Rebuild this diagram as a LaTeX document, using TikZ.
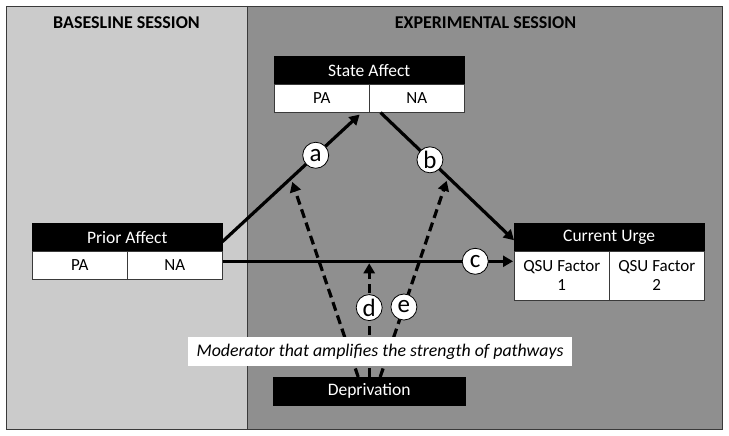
\documentclass[tikz,border=0pt]{standalone}
\usepackage{fontspec}
\setmainfont{Carlito}
\usetikzlibrary{arrows.meta,calc}
\definecolor{basegray}{HTML}{CBCBCB}
\definecolor{expgray}{HTML}{8F8F8F}
\definecolor{edgegray}{HTML}{3A3A3A}
\begin{document}
\begin{tikzpicture}[x=1pt,y=-1pt,
  hdr/.style={fill=black,text=white,draw=black,inner sep=0pt,anchor=north west,minimum height=28pt,font=\fontsize{17.5}{17.5}\selectfont},
  cellbox/.style={fill=white,draw=edgegray,line width=0.6pt,inner sep=0pt,anchor=north west,minimum width=95pt,font=\fontsize{17}{19}\selectfont,align=center},
  title/.style={font=\fontsize{18}{18}\selectfont\bfseries},
  lbl/.style={circle,fill=white,draw=black,line width=0.8pt,inner sep=0pt,minimum size=26pt,font=\fontsize{25}{25}\selectfont},
  solidarrow/.style={line width=3.2pt,-{Triangle[length=10pt,width=11pt]}},
  dasharrow/.style={line width=3.2pt,dash pattern=on 9pt off 5pt,-{Triangle[length=10pt,width=11pt]}},
]
\useasboundingbox (0,0) rectangle (729,436);
\fill[white] (0,0) rectangle (729,436);
\fill[basegray] (6,6) rectangle (247,429);
\fill[expgray] (247,6) rectangle (722,429);
\draw[edgegray,line width=0.8pt] (6,6) rectangle (722,429);
\draw[edgegray,line width=0.8pt] (247,6) -- (247,429);
\node[title] (tbase) at (126.5,22.5) {BASESLINE SESSION};
\node[title] (texp) at (485.5,22.5) {EXPERIMENTAL SESSION};

% boxes
\node[hdr,minimum width=190pt] (sah) at (274,56) {State Affect};
\node[cellbox,minimum height=28pt] (sapa) at (274,84) {PA};
\node[cellbox,minimum height=28pt] (sana) at (369,84) {NA};

\node[hdr,minimum width=190pt] (pah) at (32,223) {Prior Affect};
\node[cellbox,minimum height=28pt] (papa) at (32,251) {PA};
\node[cellbox,minimum height=28pt] (pana) at (127,251) {NA};

\node[hdr,minimum width=190pt] (cuh) at (514,223) {Current Urge};
\node[cellbox,minimum height=49pt] (cu1) at (514,251) {QSU Factor\\1};
\node[cellbox,minimum height=49pt] (cu2) at (609,251) {QSU Factor\\2};

\node[hdr,minimum width=192pt,minimum height=28pt] (dep) at (273,377) {Deprivation};

% anchor coordinates
\coordinate (aS) at ([yshift=-4.5pt]pah.east);
\coordinate (aE) at ([xshift=-10pt,yshift=-2pt]sapa.south east);
\coordinate (bS) at ([xshift=11pt]sapa.south east);
\coordinate (bE) at ([yshift=-3pt]cuh.west);
\coordinate (cS) at ([yshift=4pt]pana.east);
\coordinate (cE) at ($(cu1.west)+(-1,-14.5)$);

\path (aS) -- (aE) coordinate[pos=0.5] (ma);
\path (bS) -- (bE) coordinate[pos=0.505] (mb);
\path (cS) -- (cE) coordinate[pos=0.505] (mc);

% dashed moderator arrows
\draw[dasharrow,shorten >=4pt] ([xshift=-11pt]dep.north) -- (ma);
\draw[dasharrow,shorten >=2pt] (dep.north) -- (dep.north |- mc) coordinate[pos=0.6] (dlab);
\draw[dasharrow,shorten >=4pt] ([xshift=11pt]dep.north) -- (mb) coordinate[pos=0.35] (elab);

\node[fill=white,inner sep=0pt,minimum width=384pt,minimum height=29pt,font=\fontsize{17.8}{17.8}\selectfont\itshape] (mod) at (380,351.5) {Moderator that amplifies the strength of pathways};

\node[lbl] (ld) at (dlab) {d};
\node[lbl] (le) at (elab) {e};

% solid arrows
\draw[solidarrow] (aS) -- (aE) node[lbl,pos=0.68] (la) {a};
\draw[solidarrow] (bS) -- (bE) node[lbl,pos=0.37] (lb) {b};
\draw[solidarrow] (cS) -- (cE) node[lbl,pos=0.87] (lc) {c};
\end{tikzpicture}
\end{document}
